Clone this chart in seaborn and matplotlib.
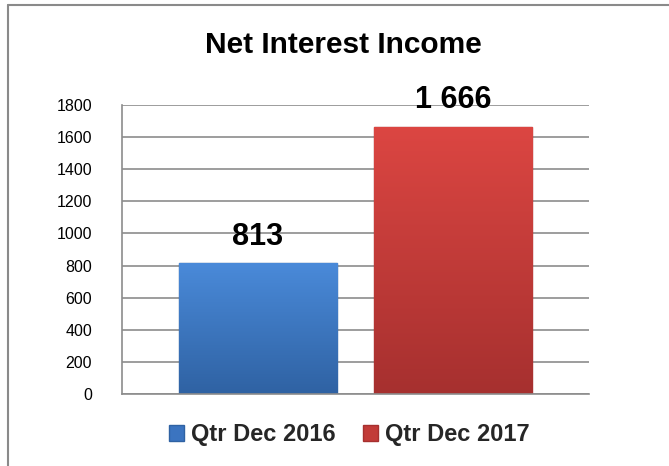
import numpy as np
import pandas as pd
import matplotlib
matplotlib.use("Agg")
import matplotlib.pyplot as plt
from matplotlib.lines import Line2D
from matplotlib.colors import LinearSegmentedColormap
import seaborn as sns

# ---- data ----
title = "Net Interest Income"
periods = ["Qtr Dec 2016", "Qtr Dec 2017"]
values = [813, 1666]
y_ticks = [0, 200, 400, 600, 800, 1000, 1200, 1400, 1600, 1800]

df = pd.DataFrame({"metric": [title] * len(periods), "period": periods, "value": values})

sns.set_theme(style="white")
plt.rcParams["font.family"] = ["Liberation Sans", "DejaVu Sans"]

W, H = 669, 466
fig = plt.figure(figsize=(W / 100, H / 100), dpi=100)
ax = fig.add_axes([122 / W, 1 - 394 / H, (589 - 122) / W, (394 - 105) / H])

mid_colors = ["#3b74c0", "#c23b38"]
sns.barplot(data=df, x="metric", y="value", hue="period", palette=mid_colors,
            width=0.836, gap=0.187, ax=ax, saturation=1, legend=True)

handles, labels = ax.get_legend_handles_labels()
if ax.get_legend() is not None:
    ax.get_legend().remove()

xlim = ax.get_xlim()
ax.set_ylim(0, 1800)

# gradient fill for bars (lighter at top, darker at bottom)
grads = [("#4a8ad9", "#2f62a3"), ("#dc4642", "#a6302f")]
bars = [p for p in ax.patches if p.get_height() > 0]
bars = sorted(bars, key=lambda p: p.get_x())
for p, (top, bot) in zip(bars, grads):
    x0, w, h = p.get_x(), p.get_width(), p.get_height()
    cmap = LinearSegmentedColormap.from_list("g", [top, bot])
    grad = np.linspace(0, 1, 256).reshape(-1, 1)
    im = ax.imshow(grad, cmap=cmap, aspect="auto", extent=[x0, x0 + w, 0, h],
                   origin="upper", zorder=p.get_zorder() + 0.1)
    im.set_clip_path(p)
    p.set_edgecolor(bot)
    p.set_linewidth(1.0)
    ax.annotate(f"{p.get_height():,.0f}".replace(",", " "),
                xy=(x0 + w / 2, h), xytext=(0, 13.3), textcoords="offset points",
                ha="center", va="baseline", fontsize=22, fontweight="bold",
                color="black", zorder=5)

ax.set_xlim(xlim)
ax.set_ylim(0, 1800)
ax.set_yticks(y_ticks)
ax.set_yticklabels([str(t) for t in y_ticks])
ax.tick_params(axis="y", length=0, pad=21.6, labelsize=11.5, labelcolor="black")
ax.tick_params(axis="x", length=0, labelbottom=False)
ax.set_xlabel("")
ax.set_ylabel("")
ax.yaxis.grid(True, color="#8c8c8c", linewidth=1.2)
ax.xaxis.grid(False)
ax.set_axisbelow(True)
for s in ["top", "right"]:
    ax.spines[s].set_visible(False)
for s in ["left", "bottom"]:
    ax.spines[s].set_color("#8c8c8c")
    ax.spines[s].set_linewidth(1.2)

fig.text(343 / W, 1 - 53 / H, title, ha="center", va="baseline",
         fontsize=21.5, fontweight="bold", color="black")

leg = fig.legend(handles, labels, loc="center", bbox_to_anchor=(349 / W, 1 - 435 / H),
                 ncol=2, frameon=False, handlelength=0.64, handleheight=0.64,
                 handletextpad=0.3, columnspacing=1.15,
                 prop={"size": 17, "weight": "bold"})
for i, hnd in enumerate(leg.legend_handles):
    hnd.set_facecolor(mid_colors[i])
    hnd.set_edgecolor(grads[i][1])

# outer chart frame (clipped at right/bottom like the reference)
fig.add_artist(Line2D([8 / W, 8 / W], [1 - 5 / H, 0], color="#8a8a8a", lw=1.5))
fig.add_artist(Line2D([8 / W, 1], [1 - 5 / H, 1 - 5 / H], color="#8a8a8a", lw=1.5))

fig.savefig("out.png", dpi=100, facecolor="white")
